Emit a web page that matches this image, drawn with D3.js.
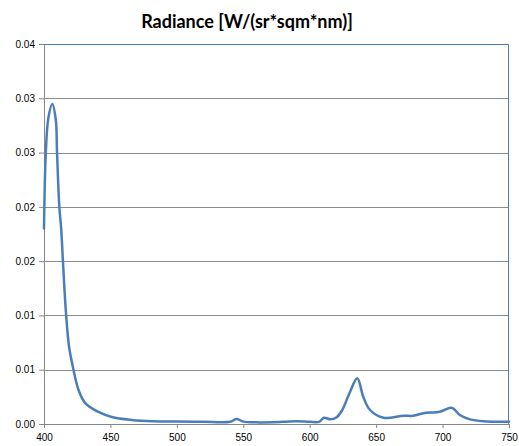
<!DOCTYPE html>
<html>
<head>
<meta charset="utf-8">
<script src="https://cdn.jsdelivr.net/npm/d3@7"></script>
<style>
  body { margin: 0; background: #fff; }
  svg { display: block; }
</style>
</head>
<body>
<div id="chart"></div>
<script>
// wavelength (nm) and radiance values
const wavelength = [400, 401.3, 403.3, 406.2, 408.9, 409.8, 411.5, 413, 414.2, 416.6, 418.9, 421.9, 426, 431, 441, 451, 466, 482, 500, 520, 540, 545, 550, 560, 580, 590, 600, 607, 610.7, 615.7, 620, 624.5, 630, 635.8, 640.3, 645.4, 655.5, 670.5, 678, 685.5, 698, 706.8, 713, 720.6, 730.6, 750];
const radiance = [0.0180, 0.02480, 0.0282, 0.02947, 0.0280, 0.02505, 0.02008, 0.01787, 0.0151, 0.01013, 0.00709, 0.00516, 0.00313, 0.00193, 0.00111, 0.00064, 0.00037, 0.00025, 0.00022, 0.0002, 0.0002, 0.00046, 0.00022, 0.00015, 0.0002, 0.00025, 0.0002, 0.0002, 0.00058, 0.00043, 0.0006, 0.00129, 0.00286, 0.00421, 0.00251, 0.00129, 0.00058, 0.00076, 0.00076, 0.00099, 0.00113, 0.0015, 0.00083, 0.00043, 0.00025, 0.0002];

const xTicks = [400, 450, 500, 550, 600, 650, 700, 750];
const yTicks = [0, 0.005, 0.01, 0.015, 0.02, 0.025, 0.03, 0.035];
const yTickLabels = ['0.00', '0.01', '0.01', '0.02', '0.02', '0.03', '0.03', '0.04'];
const title = 'Radiance [W/(sr*sqm*nm)]';

const margin = { top: 44, right: 10, bottom: 22, left: 44 };
const width = 519 - margin.left - margin.right;
const height = 446 - margin.top - margin.bottom;

const svg = d3.select('#chart')
  .append('svg')
  .attr('width', 519)
  .attr('height', 446);

svg.append('text')
  .attr('x', 247)
  .attr('y', 28)
  .attr('text-anchor', 'middle')
  .style('font-family', 'Lato, "Open Sans", sans-serif')
  .style('font-weight', 'bold')
  .style('font-size', '18px')
  .text(title);

const group = svg.append('g')
  .attr('transform', 'translate(' + margin.left + ',' + margin.top + ')');

const xScale = d3.scaleLinear().domain([400, 750]).range([0, width]);
const yScale = d3.scaleLinear().domain([0, 0.035]).range([height, 0]);

// gridlines
group.append('g')
  .selectAll('line')
  .data(yTicks.slice(1, -1))
  .enter()
  .append('line')
  .attr('x1', 0)
  .attr('x2', width)
  .attr('y1', (d) => Math.round(yScale(d)) + 0.5)
  .attr('y2', (d) => Math.round(yScale(d)) + 0.5)
  .attr('stroke', '#8c8c8c')
  .attr('stroke-width', 1);

// plot area border (top / right) in blue
group.append('path')
  .attr('d', 'M0,0.5H' + (width - 0.5) + 'V' + height)
  .attr('fill', 'none')
  .attr('stroke', '#4a7ebb')
  .attr('stroke-width', 1);

const yAxis = d3.axisLeft(yScale)
  .tickValues(yTicks)
  .tickFormat((d, i) => yTickLabels[i])
  .tickSize(5)
  .tickPadding(4);
const yAxisGroup = group.append('g').attr('class', 'y-axis axis').call(yAxis);

const xAxis = d3.axisBottom(xScale)
  .tickValues(xTicks)
  .tickFormat(d3.format('d'))
  .tickSize(4)
  .tickPadding(6);
const xAxisGroup = group.append('g')
  .attr('class', 'x-axis axis')
  .attr('transform', 'translate(0,' + height + ')')
  .call(xAxis);

[yAxisGroup, xAxisGroup].forEach((g) => {
  g.select('.domain').attr('stroke', '#868686');
  g.selectAll('.tick line').attr('stroke', '#868686');
  g.selectAll('text')
    .attr('fill', '#000')
    .style('font-family', '"Liberation Sans", Arial, sans-serif')
    .style('font-size', '10px');
});

const data = wavelength.map((w, i) => ({ w: w, v: radiance[i] }));

const line = d3.line()
  .x((d) => xScale(d.w))
  .y((d) => yScale(d.v))
  .curve(d3.curveCatmullRom.alpha(0.5));

group.append('path')
  .datum(data)
  .attr('fill', 'none')
  .attr('stroke', '#4a7ebb')
  .attr('stroke-width', 2.5)
  .attr('stroke-linejoin', 'round')
  .attr('stroke-linecap', 'round')
  .attr('d', line);
</script>
</body>
</html>
